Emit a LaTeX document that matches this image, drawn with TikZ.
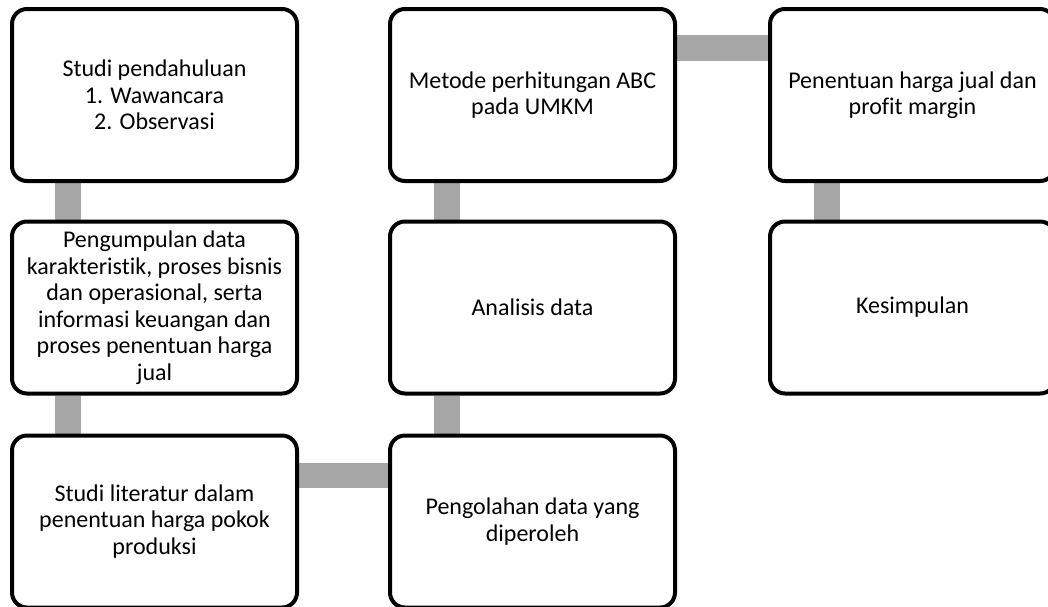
\documentclass[tikz,border=0pt]{standalone}
\usepackage{fontspec}
\setmainfont{Carlito}[Ligatures={NoCommon}]
\usetikzlibrary{calc,backgrounds}
\tikzset{
  stepbox/.style={draw=black, line width=4pt, rounded corners=15pt, fill=white,
    minimum width=285pt, minimum height=172pt, inner sep=0pt, align=center,
    font=\fontsize{24pt}{26.5pt}\selectfont},
  bar/.style={draw=graybar, line width=25.5pt}
}
\definecolor{graybar}{HTML}{A6A6A6}
\begin{document}
\begin{tikzpicture}[x=1pt,y=-1pt]
\path[use as bounding box] (0,0) rectangle (1048,606);
\clip (0,0) rectangle (1048,606);
\node[stepbox] (a1) at (154.5,95) {Studi pendahuluan\\1. Wawancara\\2. Observasi};
\node[stepbox] (a2) at (154.5,307.5) {Pengumpulan data\\karakteristik, proses bisnis\\dan operasional, serta\\informasi keuangan dan\\proses penentuan harga\\jual};
\node[stepbox] (a3) at (154.5,521.5) {Studi literatur dalam\\penentuan harga pokok\\produksi};
\node[stepbox] (b3) at (532.5,521.5) {Pengolahan data yang\\diperoleh};
\node[stepbox] (b2) at (532.5,307.5) {Analisis data};
\node[stepbox] (b1) at (532.5,95) {Metode perhitungan ABC\\pada UMKM};
\node[stepbox] (c1) at (912.5,95) {Penentuan harga jual dan\\profit margin};
\node[stepbox] (c2) at (912.5,307.5) {Kesimpulan};
\begin{scope}[on background layer]
\draw[bar] ($(a1.south west)+(58,0)$) -- ($(a2.north west)+(58,0)$);
\draw[bar] ($(a2.south west)+(58,0)$) -- ($(a3.north west)+(58,0)$);
\draw[bar] ($(a3.north east)+(0,42)$) -- ($(b3.north west)+(0,42)$);
\draw[bar] ($(b3.north west)+(59,0)$) -- ($(b2.south west)+(59,0)$);
\draw[bar] ($(b2.north west)+(59,0)$) -- ($(b1.south west)+(59,0)$);
\draw[bar] ($(b1.north east)+(0,41)$) -- ($(c1.north west)+(0,41)$);
\draw[bar] ($(c1.south west)+(59,0)$) -- ($(c2.north west)+(59,0)$);
\end{scope}
\end{tikzpicture}
\end{document}
